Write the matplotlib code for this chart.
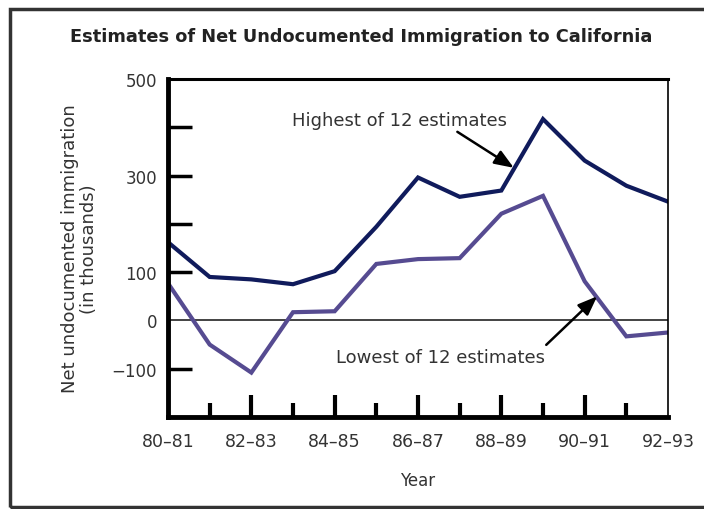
import matplotlib.pyplot as plt
from matplotlib.patches import Rectangle

years = ['80\u201381', '82\u201383', '84\u201385', '86\u201387', '88\u201389', '90\u201391', '92\u201393']
highest = [162, 90, 85, 75, 102, 194, 296, 256, 269, 417, 331, 279, 246]
lowest = [77, -50, -108, 17, 19, 117, 127, 129, 221, 258, 81, -33, -25]
yTickLabels = [500, 300, 100, 0, -100]

plt.rcParams['font.family'] = ['DejaVu Sans']
textColor = '#333333'

fig = plt.figure(figsize=(7.04, 5.10), dpi=100)
ax = fig.add_axes([168 / 704, 1 - 418 / 510, 500 / 704, 338 / 510])

xs = list(range(len(highest)))
ax.plot(xs, highest, color='#101b5c', lw=3, solid_joinstyle='miter')
ax.plot(xs, lowest, color='#564b91', lw=3, solid_joinstyle='miter')
ax.axhline(0, color='#222222', lw=1.2, zorder=1)

ax.set_xlim(0, 12)
ax.set_ylim(-200, 500)

# major ticks every other period, minor in between
ax.set_xticks(range(0, 13, 2))
ax.set_xticklabels(years, fontsize=12.5, color=textColor)
ax.set_xticks(range(1, 13, 2), minor=True)
ax.set_yticks(yTickLabels)
ax.set_yticklabels([str(v).replace('-', '\u2212') for v in yTickLabels], fontsize=12, color=textColor)
ax.set_yticks([400, 200], minor=True)
ax.tick_params(axis='both', which='both', direction='in', color='black', width=3)
ax.tick_params(axis='x', which='major', length=16, pad=11)
ax.tick_params(axis='x', which='minor', length=10)
ax.tick_params(axis='y', which='both', length=17, pad=8, width=2.5)
# ticks at the frame edges / zero line are not drawn
xMajor = ax.xaxis.get_major_ticks()
xMajor[0].tick1line.set_visible(False)
xMajor[-1].tick1line.set_visible(False)
yMajor = ax.yaxis.get_major_ticks()
yMajor[0].tick1line.set_visible(False)
yMajor[3].tick1line.set_visible(False)

ax.spines['left'].set_linewidth(3.5)
ax.spines['bottom'].set_linewidth(3.5)
ax.spines['top'].set_linewidth(2.2)
ax.spines['right'].set_linewidth(1.2)

ax.set_xlabel('Year', fontsize=12, color=textColor, labelpad=15)
ax.set_ylabel('Net undocumented immigration\n(in thousands)', fontsize=13,
              color=textColor, labelpad=10, linespacing=1.05)

ax.annotate('Highest of 12 estimates', xy=(8.3, 316), xytext=(5.55, 415),
            fontsize=13, color=textColor, ha='center', va='center',
            arrowprops=dict(arrowstyle='-|>,head_length=0.9,head_width=0.35',
                            color='black', lw=1.8, shrinkA=0, shrinkB=0,
                            relpos=(0.75, 0.0)))
ax.annotate('Lowest of 12 estimates', xy=(10.3, 50), xytext=(6.55, -75),
            fontsize=13, color=textColor, ha='center', va='center',
            arrowprops=dict(arrowstyle='-|>,head_length=0.9,head_width=0.35',
                            color='black', lw=1.8, shrinkA=0, shrinkB=0,
                            relpos=(0.99, 1.0)))

fig.text(361 / 704, 1 - 37 / 510, 'Estimates of Net Undocumented Immigration to California',
         ha='center', va='center', fontsize=12.8, fontweight='bold', color='#222222')

fig.patches.append(Rectangle((10 / 704, 2 / 510), 1.0, 498 / 510, transform=fig.transFigure,
                             fill=False, edgecolor='#333333', lw=2.5))

fig.savefig('out.png', dpi=100)
